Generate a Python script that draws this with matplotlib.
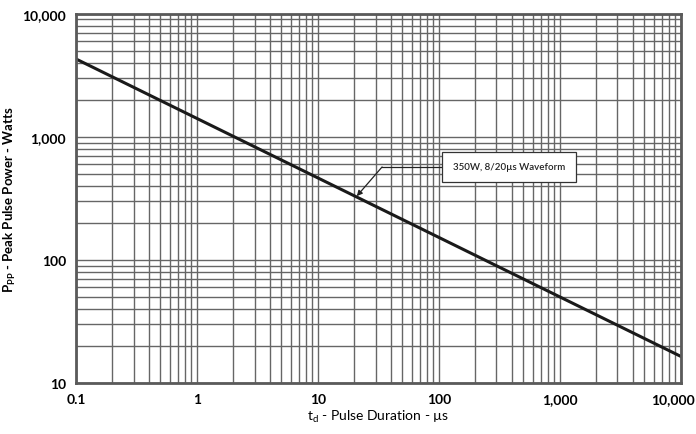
import matplotlib.pyplot as plt
import matplotlib.transforms as mtransforms

plt.rcParams['font.family'] = ['Lato', 'DejaVu Sans']

# curve end points
pulseDuration = [0.1, 10000]
peakPower = [4300, 16.5]

xTicks = [0.1, 1, 10, 100, 1000, 10000]
xTickLabels = ['0.1', '1', '10', '100', '1,000', '10,000']
yTicks = [10, 100, 1000, 10000]
yTickLabels = ['10', '100', '1,000', '10,000']

# annotation: point on curve, elbow, label position
notePoint = (21, 330)
noteElbow = (34, 570)
noteText = (380, 570)
noteLabel = '350W, 8/20µs Waveform'

fig = plt.figure(figsize=(6.96, 4.35), dpi=100)
ax = fig.add_axes([0.109, 0.117, 0.869, 0.849])

ax.set_xscale('log')
ax.set_yscale('log')
ax.set_xlim(0.1, 10000)
ax.set_ylim(10, 10000)

ax.grid(True, which='both', color='#666666', linewidth=1.0)
ax.set_axisbelow(True)

ax.plot(pulseDuration, peakPower, color='#1a1a1a', linewidth=2.2)

# label box with elbow arrow
ax.plot([noteText[0] * 0.72, noteElbow[0]], [noteElbow[1], noteElbow[1]],
        color='#222222', linewidth=0.9)
ax.annotate('', xy=notePoint, xytext=noteElbow,
            arrowprops=dict(arrowstyle='-|>', color='#222222', lw=0.9,
                            mutation_scale=8, shrinkA=0, shrinkB=0))
ax.text(noteText[0], noteText[1], noteLabel, fontsize=7, ha='center',
        va='center', color='#222222', fontweight='semibold',
        bbox=dict(boxstyle='square,pad=1.1', facecolor='white',
                  edgecolor='#333333', linewidth=0.9))

ax.set_xticks(xTicks)
ax.set_xticklabels(xTickLabels)
ax.set_yticks(yTicks)
ax.set_yticklabels(yTickLabels)
ax.minorticks_on()
ax.tick_params(which='both', length=0)
ax.tick_params(axis='both', labelsize=10, pad=7)
for lbl in ax.get_xticklabels() + ax.get_yticklabels():
    lbl.set_fontweight('bold')

# pull the last x label in a little so it stays inside the figure
lastLabel = ax.xaxis.get_major_ticks()[-1].label1
lastLabel.set_transform(lastLabel.get_transform() +
                        mtransforms.ScaledTranslation(-8 / 100, 0, fig.dpi_scale_trans))

for sp in ax.spines.values():
    sp.set_color('#5a5a5a')
    sp.set_linewidth(2)

ax.set_xlabel('t$_{\\mathregular{d}}$ - Pulse Duration - µs', fontsize=10, labelpad=2)
ax.set_ylabel('P$_{\\mathregular{PP}}$ - Peak Pulse Power - Watts', fontsize=9.5,
              fontweight='bold', labelpad=3)

fig.savefig('out.png', dpi=100)
